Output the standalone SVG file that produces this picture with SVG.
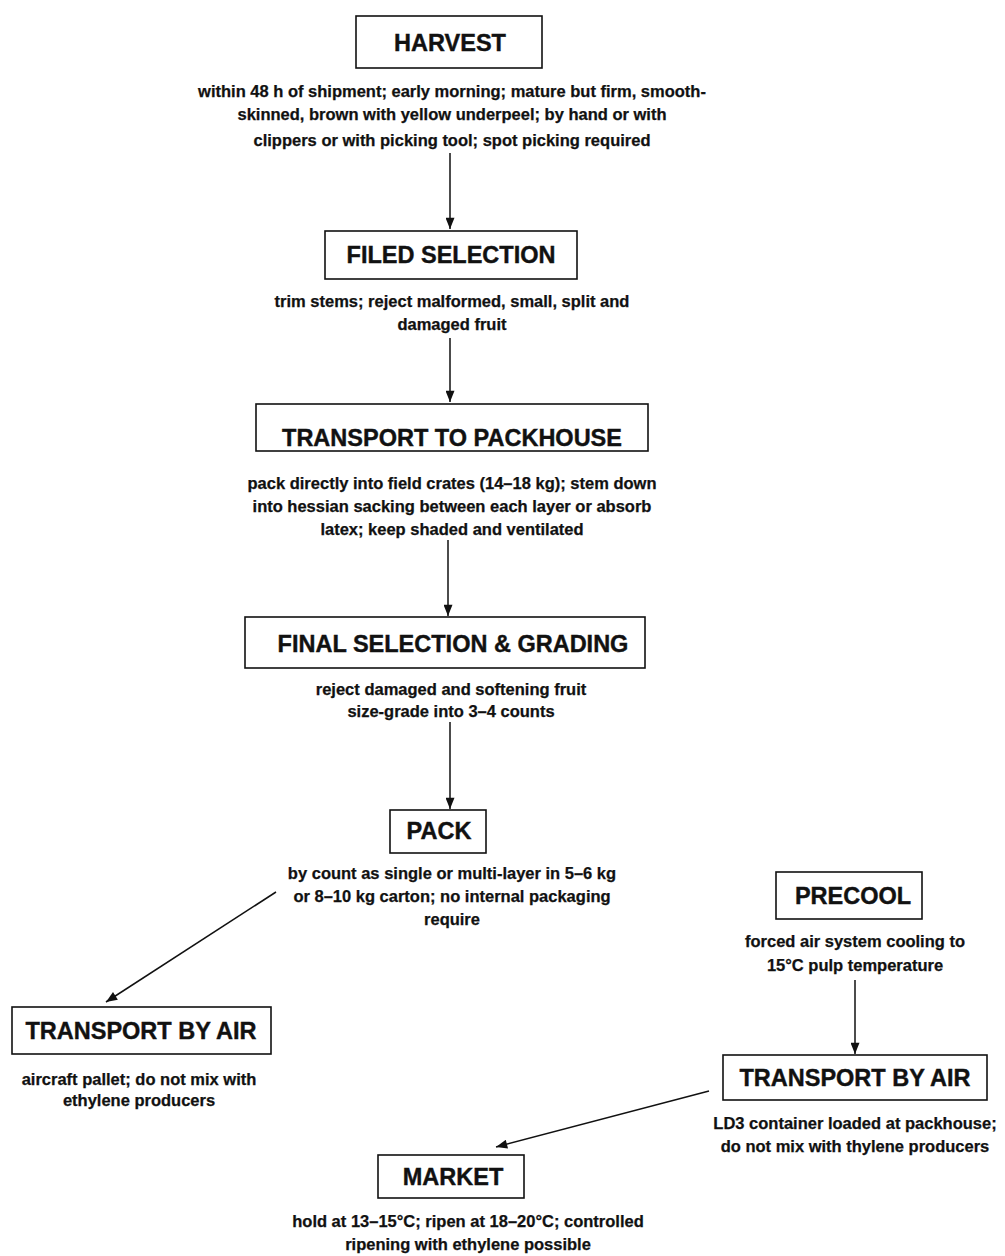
<svg xmlns="http://www.w3.org/2000/svg" width="1005" height="1256" viewBox="0 0 1005 1256">
<defs>
<marker id="ah" viewBox="0 0 10 8" refX="10" refY="4" markerWidth="12" markerHeight="9" markerUnits="userSpaceOnUse" orient="auto">
<path d="M0,0 L10,4 L0,8 Z" fill="#111"/>
</marker>
<style>
.box{fill:#fff;stroke:#111;stroke-width:1.6}
.t{font-family:"Liberation Sans",Arial,sans-serif;font-weight:bold;font-size:23.5px;fill:#111;stroke:#111;stroke-width:0.4;text-anchor:middle}
.d{font-family:"Liberation Sans",Arial,sans-serif;font-weight:bold;font-size:16.5px;fill:#111;stroke:#111;stroke-width:0.25;text-anchor:middle}
.c{stroke:#111;stroke-width:1.5;fill:none;marker-end:url(#ah)}
</style>
</defs>
<rect width="1005" height="1256" fill="#fff"/>
<g id="connectors">
<line class="c" x1="450" y1="153" x2="450" y2="229"/>
<line class="c" x1="450" y1="338" x2="450" y2="402"/>
<line class="c" x1="448" y1="540" x2="448" y2="616"/>
<line class="c" x1="450" y1="722" x2="450" y2="809"/>
<line class="c" x1="855" y1="980" x2="855" y2="1054"/>
<line class="c" x1="276" y1="892" x2="106" y2="1002"/>
<line class="c" x1="709" y1="1091" x2="496" y2="1147"/>
</g>
<g id="harvest">
<rect class="box" x="356" y="16" width="186" height="52"/>
<text class="t" x="450" y="51">HARVEST</text>
<text class="d" x="452" y="97">within 48 h of shipment; early morning; mature but firm, smooth-</text>
<text class="d" x="452" y="120">skinned, brown with yellow underpeel; by hand or with</text>
<text class="d" x="452" y="146">clippers or with picking tool; spot picking required</text>
</g>
<g id="filed-selection">
<rect class="box" x="325" y="231" width="252" height="48"/>
<text class="t" x="451" y="263">FILED SELECTION</text>
<text class="d" x="452" y="307">trim stems; reject malformed, small, split and</text>
<text class="d" x="452" y="330">damaged fruit</text>
</g>
<g id="transport-to-packhouse">
<rect class="box" x="256" y="404" width="392" height="47"/>
<text class="t" x="452" y="446">TRANSPORT TO PACKHOUSE</text>
<text class="d" x="452" y="489">pack directly into field crates (14–18 kg); stem down</text>
<text class="d" x="452" y="512">into hessian sacking between each layer or absorb</text>
<text class="d" x="452" y="535">latex; keep shaded and ventilated</text>
</g>
<g id="final-selection">
<rect class="box" x="245" y="617" width="400" height="51"/>
<text class="t" x="453" y="652">FINAL SELECTION &amp; GRADING</text>
<text class="d" x="451" y="695">reject damaged and softening fruit</text>
<text class="d" x="451" y="717">size-grade into 3–4 counts</text>
</g>
<g id="pack">
<rect class="box" x="390" y="810" width="96" height="43"/>
<text class="t" x="439" y="839">PACK</text>
<text class="d" x="452" y="879">by count as single or multi-layer in 5–6 kg</text>
<text class="d" x="452" y="902">or 8–10 kg carton; no internal packaging</text>
<text class="d" x="452" y="925">require</text>
</g>
<g id="transport-by-air-left">
<rect class="box" x="12" y="1007" width="259" height="47"/>
<text class="t" x="141" y="1039">TRANSPORT BY AIR</text>
<text class="d" x="139" y="1085">aircraft pallet; do not mix with</text>
<text class="d" x="139" y="1106">ethylene producers</text>
</g>
<g id="precool">
<rect class="box" x="776" y="872" width="146" height="47"/>
<text class="t" x="853" y="904">PRECOOL</text>
<text class="d" x="855" y="947">forced air system cooling to</text>
<text class="d" x="855" y="971">15°C pulp temperature</text>
</g>
<g id="transport-by-air-right">
<rect class="box" x="723" y="1055" width="264" height="45"/>
<text class="t" x="855" y="1086">TRANSPORT BY AIR</text>
<text class="d" x="855" y="1129">LD3 container loaded at packhouse;</text>
<text class="d" x="855" y="1152">do not mix with thylene producers</text>
</g>
<g id="market">
<rect class="box" x="378" y="1155" width="146" height="43"/>
<text class="t" x="453" y="1185">MARKET</text>
<text class="d" x="468" y="1227">hold at 13–15°C; ripen at 18–20°C; controlled</text>
<text class="d" x="468" y="1250">ripening with ethylene possible</text>
</g>
</svg>
